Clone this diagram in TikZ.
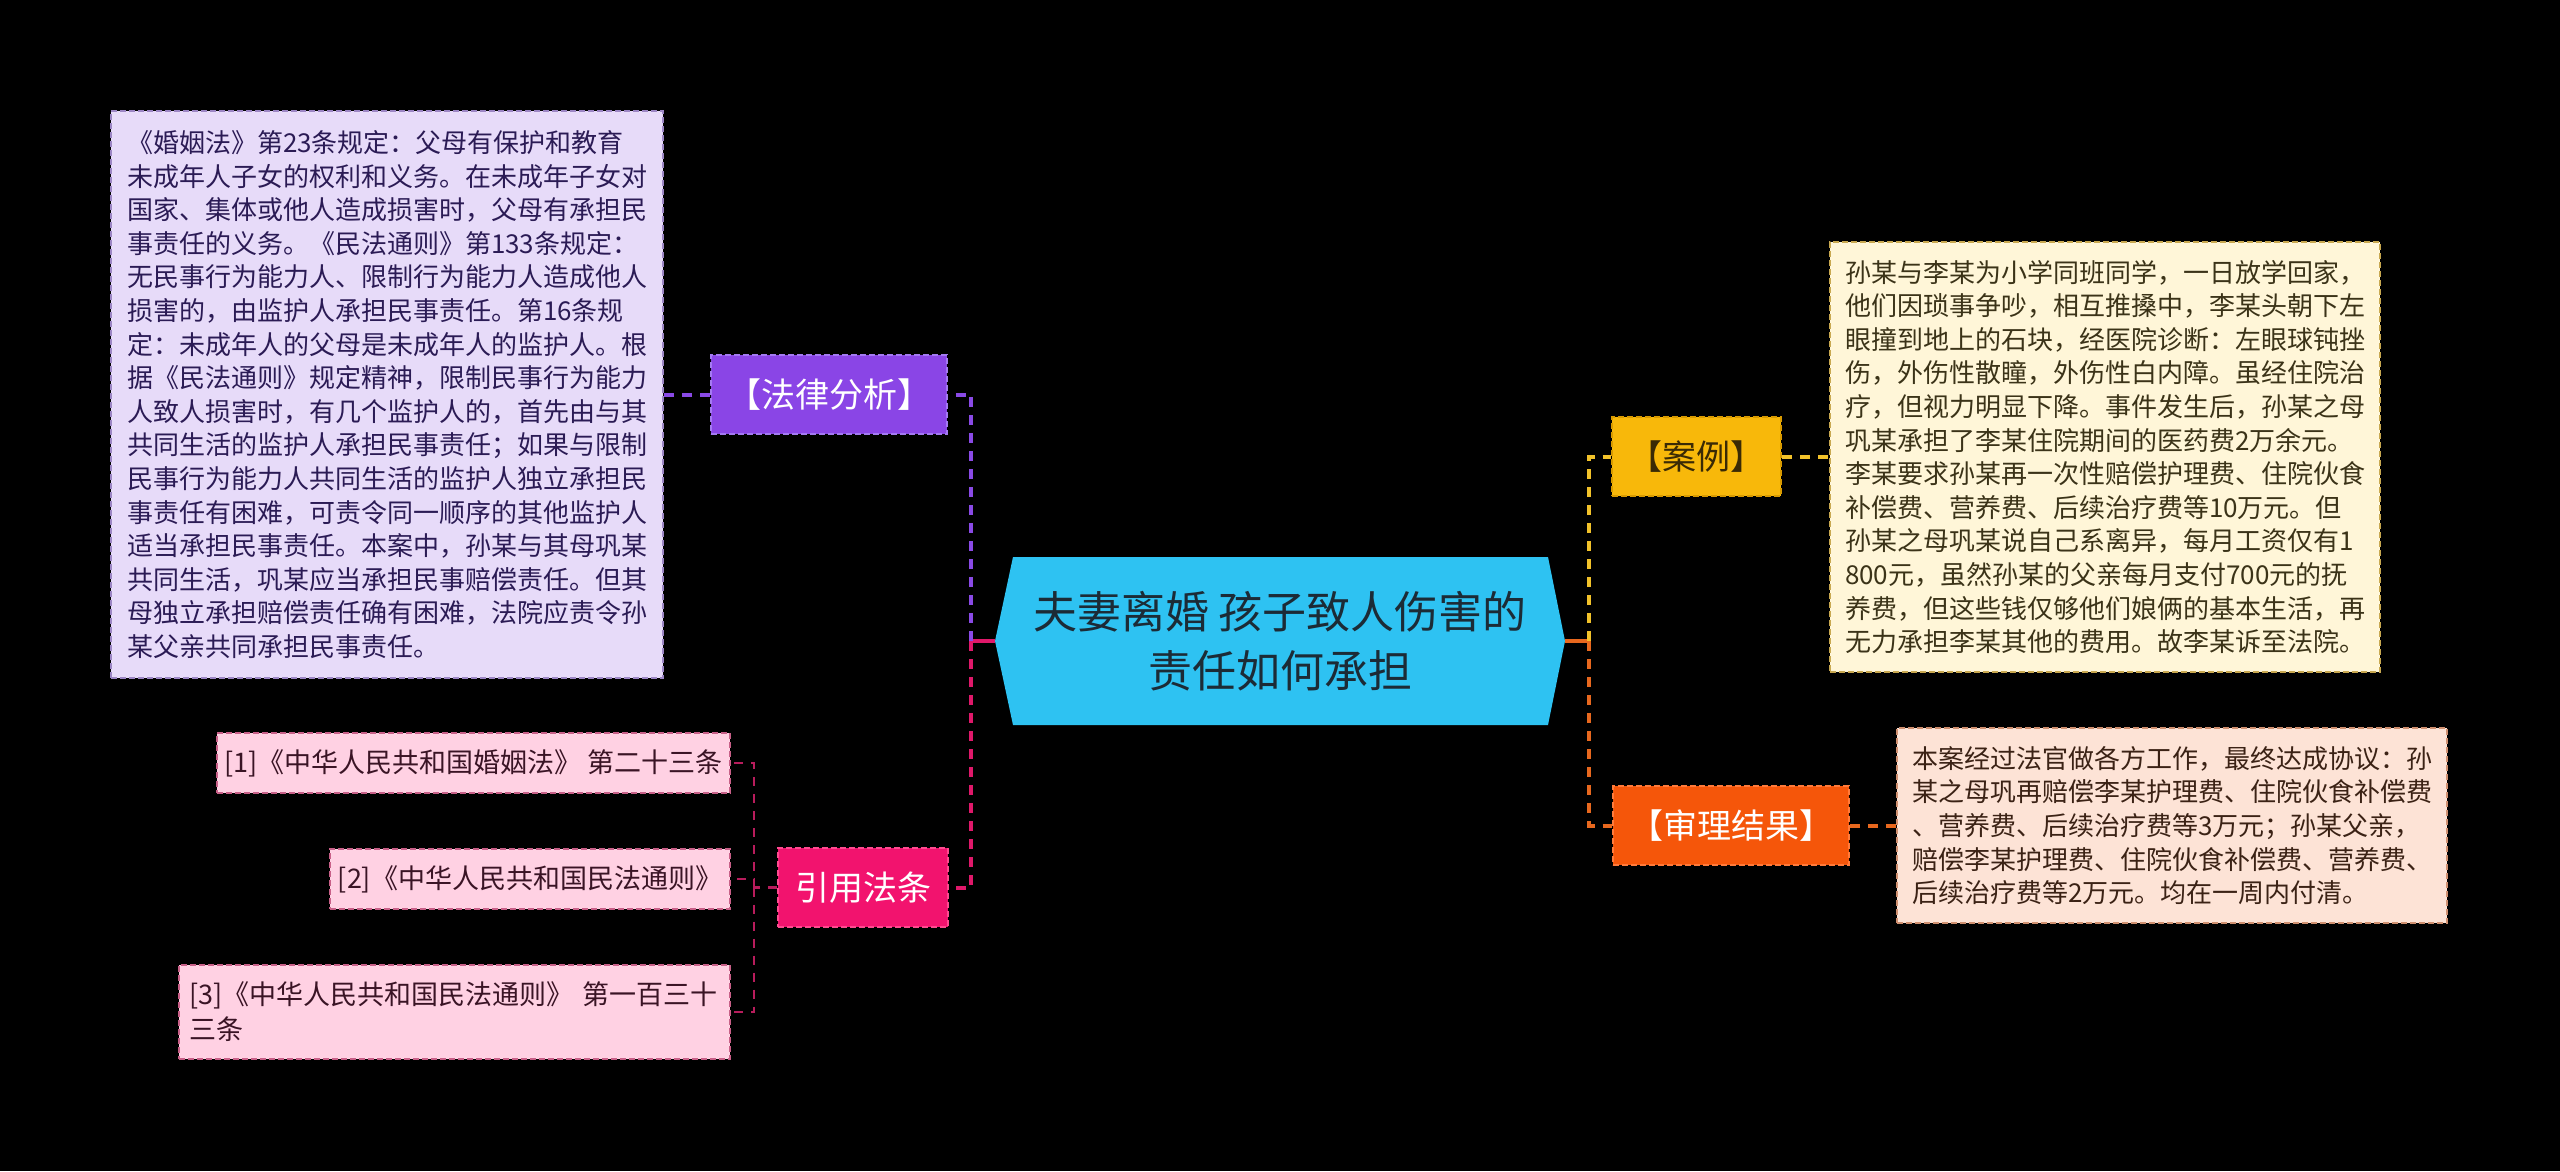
\documentclass[tikz,border=0pt]{standalone}
\usepackage{fontspec}
\setmainfont{Noto Sans CJK SC}
\usetikzlibrary{calc}
\definecolor{bg}{HTML}{000000}
\definecolor{cfill}{HTML}{2EC2F2}
\definecolor{ctext}{HTML}{1C2B36}
\definecolor{pfill}{HTML}{8A45E6}
\definecolor{pdraw}{HTML}{A47AF2}
\definecolor{lfill}{HTML}{E7DBF9}
\definecolor{ldraw}{HTML}{9C86C4}
\definecolor{ltext}{HTML}{2B1B55}
\definecolor{mfill}{HTML}{F2136E}
\definecolor{mdraw}{HTML}{FF4A90}
\definecolor{rfill}{HTML}{FFD1E3}
\definecolor{rdraw}{HTML}{C86088}
\definecolor{rtext}{HTML}{3A1425}
\definecolor{yfill}{HTML}{F8B80A}
\definecolor{ydraw}{HTML}{D89A00}
\definecolor{ytext}{HTML}{3A2A05}
\definecolor{cafill}{HTML}{FFF6D8}
\definecolor{cadraw}{HTML}{C8A850}
\definecolor{catext}{HTML}{3B3318}
\definecolor{ofill}{HTML}{F5560A}
\definecolor{odraw}{HTML}{FF7A3A}
\definecolor{pefill}{HTML}{FDE3D6}
\definecolor{pedraw}{HTML}{D09070}
\definecolor{petext}{HTML}{3B2215}
\definecolor{lnP}{HTML}{8A4AE6}
\definecolor{lnM}{HTML}{E0186A}
\definecolor{lnY}{HTML}{F2C22A}
\definecolor{lnO}{HTML}{E8681E}
\definecolor{lnR}{HTML}{B81C5C}
\tikzset{
  boxborder/.style={line width=2pt, dash pattern=on 6pt off 3pt},
  label/.style={boxborder, inner sep=0pt, minimum height=79pt, font={\fontsize{34}{40}\selectfont}},
  body/.style={boxborder, inner sep=0pt, align=left, font={\fontsize{26}{33.6}\selectfont}},
  refbox/.style={boxborder, inner sep=0pt, fill=rfill, draw=rdraw, text=rtext, font={\fontsize{27}{35}\selectfont}},
  conn/.style={line width=4pt, dash pattern=on 10pt off 8pt},
  stem/.style={line width=4pt},
  refline/.style={line width=2.5pt, dash pattern=on 9pt off 8pt, draw=lnR},
}
\begin{document}
\begin{tikzpicture}[x=1pt,y=-1pt]
\useasboundingbox (0,0) rectangle (2560,1171);
\fill[bg] (0,0) rectangle (2560,1171);

% centre
\node (center) [minimum width=570pt, minimum height=168pt, inner sep=0pt, align=center,
  text=ctext, font={\fontsize{44}{59}\selectfont},
  path picture={\fill[cfill] (path picture bounding box.west)
     -- ([xshift=18pt]path picture bounding box.north west)
     -- ([xshift=-17pt]path picture bounding box.north east)
     -- (path picture bounding box.east)
     -- ([xshift=-17pt]path picture bounding box.south east)
     -- ([xshift=18pt]path picture bounding box.south west) -- cycle;}]
  at (1280,641) {夫妻离婚 孩子致人伤害的\\责任如何承担};

% left branch: law analysis
\node (law) [label, minimum width=236pt, fill=pfill, draw=pdraw, text=white] at (829,394.5) {【法律分析】};
\node (lawtxt) [body, minimum width=552pt, minimum height=567pt, fill=lfill, draw=ldraw, text=ltext] at (387,394.5) {%
《婚姻法》第23条规定：父母有保护和教育\\
未成年人子女的权利和义务。在未成年子女对\\
国家、集体或他人造成损害时，父母有承担民\\
事责任的义务。《民法通则》第133条规定：\\
无民事行为能力人、限制行为能力人造成他人\\
损害的，由监护人承担民事责任。第16条规\\
定：未成年人的父母是未成年人的监护人。根\\
据《民法通则》规定精神，限制民事行为能力\\
人致人损害时，有几个监护人的，首先由与其\\
共同生活的监护人承担民事责任；如果与限制\\
民事行为能力人共同生活的监护人独立承担民\\
事责任有困难，可责令同一顺序的其他监护人\\
适当承担民事责任。本案中，孙某与其母巩某\\
共同生活，巩某应当承担民事赔偿责任。但其\\
母独立承担赔偿责任确有困难，法院应责令孙\\
某父亲共同承担民事责任。};

% left branch: cited articles
\node (cite) [label, minimum width=170pt, fill=mfill, draw=mdraw, text=white] at (863,887.5) {引用法条};
\node (ref1) [refbox, minimum width=513pt, minimum height=60pt] at (473.5,763) {[1]《中华人民共和国婚姻法》 第二十三条};
\node (ref2) [refbox, minimum width=400pt, minimum height=60pt] at (530,879) {[2]《中华人民共和国民法通则》};
\node (ref3) [refbox, text width=531pt, inner xsep=10pt, minimum height=94pt, align=left] at (454.5,1012) {[3]《中华人民共和国民法通则》 第一百三十\\三条};

% right branch: case
\node (case) [label, minimum width=169pt, fill=yfill, draw=ydraw, text=ytext] at (1696.5,456.5) {【案例】};
\node (casetxt) [body, minimum width=550pt, minimum height=430pt, fill=cafill, draw=cadraw, text=catext] at (2105,457) {%
孙某与李某为小学同班同学，一日放学回家，\\
他们因琐事争吵，相互推搡中，李某头朝下左\\
眼撞到地上的石块，经医院诊断：左眼球钝挫\\
伤，外伤性散瞳，外伤性白内障。虽经住院治\\
疗，但视力明显下降。事件发生后，孙某之母\\
巩某承担了李某住院期间的医药费2万余元。\\
李某要求孙某再一次性赔偿护理费、住院伙食\\
补偿费、营养费、后续治疗费等10万元。但\\
孙某之母巩某说自己系离异，每月工资仅有1\\
800元，虽然孙某的父亲每月支付700元的抚\\
养费，但这些钱仅够他们娘俩的基本生活，再\\
无力承担李某其他的费用。故李某诉至法院。};

% right branch: result
\node (result) [label, minimum width=236pt, fill=ofill, draw=odraw, text=white] at (1731,825.5) {【审理结果】};
\node (restxt) [body, minimum width=550pt, minimum height=195pt, fill=pefill, draw=pedraw, text=petext] at (2172,825.5) {%
本案经过法官做各方工作，最终达成协议：孙\\
某之母巩再赔偿李某护理费、住院伙食补偿费\\
、营养费、后续治疗费等3万元；孙某父亲，\\
赔偿李某护理费、住院伙食补偿费、营养费、\\
后续治疗费等2万元。均在一周内付清。};

% junctions
\coordinate (jL) at (971,641);
\coordinate (jR) at (1589,641);
\coordinate (jC) at (754,887.5);

% connectors
\draw[stem, lnM] (center.west) -- (jL);
\draw[conn, lnP] (jL) |- (law.east);
\draw[conn, lnM] (jL) |- (cite.east);
\draw[conn, lnP] (law.west) -- (lawtxt.east);

\draw[stem, lnO] (center.east) -- (jR);
\draw[conn, lnY] (jR) |- (case.west);
\draw[conn, lnO] (jR) |- (result.west);
\draw[conn, lnY] (case.east) -- (case.east -| casetxt.west);
\draw[conn, lnO] (result.east) -- (restxt.west);

\draw[refline] (cite.west) -- (jC);
\draw[refline] (jC) |- (ref1.east);
\draw[refline] (jC) |- (ref2.east);
\draw[refline] (jC) |- (ref3.east);
\end{tikzpicture}
\end{document}
